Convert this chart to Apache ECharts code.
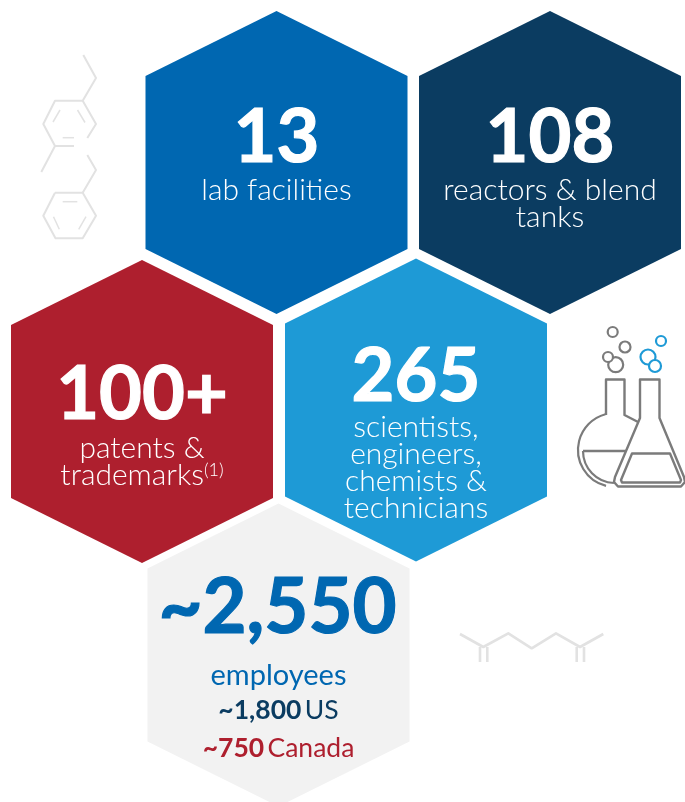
<!DOCTYPE html>
<html>
<head>
<meta charset="utf-8">
<style>
  html, body { margin: 0; padding: 0; background: #fff; }
  #main { width: 685px; height: 802px; }
</style>
<script src="https://cdn.jsdelivr.net/npm/echarts@6/dist/echarts.min.js"></script>
</head>
<body>
<div id="main"></div>
<script>
var statValues = ['13', '108', '100+', '265', '~2,550'];
var statLabels = ['lab facilities', 'reactors & blend\ntanks', 'patents &\ntrademarks{sup|(1)}', 'scientists,\nengineers,\nchemists &\ntechnicians', 'employees'];
var hexCenterX = [276.5, 550, 142, 416, 278.5];
var hexCenterY = [162.5, 162.5, 411.5, 410, 655];
var hexColors = ['#0067b1', '#0b3c61', '#ae1f2e', '#1e9ad6', '#f2f2f2'];
var usCount = '~1,800';
var canadaCount = '~750';

var FONT = 'Lato, "Open Sans", sans-serif';
var chart = echarts.init(document.getElementById('main'));

// offsets from hex centre: big number and the label under it
var numberDy = [-24, -24, -16, -33, -47];
var labelDy = [28, 41, 50, 58, 21];
var numberSize = [74, 74, 74, 74, 76];

function renderHex(params, api) {
  var i = params.dataIndex;
  var c = api.coord([api.value(0), api.value(1)]);
  var s = api.size([131, 151.5]);
  var w = s[0], h = s[1], sh = s[1] * 0.571;
  var numColor = i === 4 ? '#0067b1' : '#fff';
  var children = [{
    type: 'polygon',
    shape: { points: [[c[0], c[1] - h], [c[0] + w, c[1] - sh], [c[0] + w, c[1] + sh], [c[0], c[1] + h], [c[0] - w, c[1] + sh], [c[0] - w, c[1] - sh]] },
    style: { fill: hexColors[i] }
  }, {
    type: 'text',
    x: i === 4 ? -1 : 0,
    style: {
      x: c[0], y: c[1] + numberDy[i], text: statValues[i], align: 'center', verticalAlign: 'middle',
      font: '700 ' + numberSize[i] + 'px ' + FONT, fill: numColor, stroke: numColor, lineWidth: 1.2
    }
  }, {
    type: 'text',
    style: {
      x: c[0], y: c[1] + labelDy[i], text: statLabels[i], align: 'center', verticalAlign: 'middle',
      fontFamily: 'Lato', fontWeight: i === 4 ? 400 : 300, fontSize: i === 4 ? 29 : 30, lineHeight: 27, fill: i === 4 ? '#0067b1' : '#fff',
      rich: { sup: { fontFamily: 'Lato', fontWeight: 300, fontSize: 18, lineHeight: 27, verticalAlign: 'top', fill: '#fff' } }
    }
  }];
  if (i === 4) {
    children.push({
      type: 'text',
      style: {
        x: c[0], y: c[1] + 55, text: '{b|' + usCount + '} {n|US}', align: 'center', verticalAlign: 'middle',
        rich: {
          b: { fontFamily: 'Lato', fontWeight: 700, fontSize: 26.5, fill: '#0b3c61' },
          n: { fontFamily: 'Lato', fontWeight: 400, fontSize: 26.5, fill: '#0b3c61' }
        }
      }
    }, {
      type: 'text',
      style: {
        x: c[0], y: c[1] + 93, text: '{b|' + canadaCount + '} {n|Canada}', align: 'center', verticalAlign: 'middle',
        rich: {
          b: { fontFamily: 'Lato', fontWeight: 700, fontSize: 26.5, fill: '#ae1f2e' },
          n: { fontFamily: 'Lato', fontWeight: 400, fontSize: 26.5, fill: '#ae1f2e' }
        }
      }
    });
  }
  return { type: 'group', children: children };
}

function line(points, color, width) {
  return {
    type: 'polyline',
    shape: { points: points },
    style: { fill: null, stroke: color, lineWidth: width, lineJoin: 'round', lineCap: 'butt' },
    silent: true
  };
}
function ring(x, y, r, color) {
  return {
    type: 'circle',
    shape: { cx: x, cy: y, r: r },
    style: { fill: '#fff', stroke: color, lineWidth: 2.2 },
    silent: true
  };
}
function arc(x, y, r, from, to, color) {
  return {
    type: 'arc',
    shape: { cx: x, cy: y, r: r, startAngle: from, endAngle: to, clockwise: true },
    style: { fill: null, stroke: color, lineWidth: 2.2 },
    silent: true
  };
}

// background decoration, not data
var molGrey = '#e2e2e2';
var flaskGrey = '#7b7b7b';
var flaskBlue = '#1e9ad6';
var D = Math.PI / 180;
var decorations = [
  line([[83.3, 55], [96, 78], [82.7, 100.7], [55, 100.7], [43.3, 124], [55, 146], [74, 146]], molGrey, 2),
  line([[82.7, 100.7], [96, 124], [87.3, 138]], molGrey, 2),
  line([[55, 146], [41.3, 172]], molGrey, 2),
  line([[60, 110], [53, 122]], molGrey, 1.5),
  line([[77.5, 110], [85, 122.5]], molGrey, 1.5),
  line([[62.7, 137.7], [74, 137.7]], molGrey, 1.5),
  line([[87.3, 155], [96, 170], [82.7, 192.7]], molGrey, 2),
  line([[55, 192.7], [82.7, 192.7], [96, 215.7], [82.7, 238.3], [55.5, 238.3], [43.3, 215.7], [55, 192.7]], molGrey, 2),
  line([[62.7, 201.7], [77.3, 201.7]], molGrey, 1.5),
  line([[53.5, 216.7], [59.3, 229.3]], molGrey, 1.5),
  line([[86, 216.7], [78.7, 229.3]], molGrey, 1.5),
  line([[460, 634], [483.3, 647], [508.3, 633.3], [531.7, 648.3], [556, 633.3], [580, 647], [603.3, 634]], molGrey, 2.6),
  line([[480, 647], [480, 662]], molGrey, 2.6),
  line([[487.3, 647], [487.3, 662]], molGrey, 2.6),
  line([[576.7, 647], [576.7, 662]], molGrey, 2.6),
  line([[584, 647], [584, 662]], molGrey, 2.6),
  // round flask
  line([[606, 415], [606, 379.5], [624.5, 379.5], [624.5, 415], [640, 423]], flaskGrey, 2.4),
  arc(615, 450, 37, 104 * D, 255 * D, flaskGrey),
  arc(615, 451, 32, 92 * D, 180 * D, flaskGrey),
  line([[583, 451], [626, 451]], flaskGrey, 2.4),
  // conical flask
  {
    type: 'polygon',
    shape: { points: [[640, 379.5], [659.5, 379.5], [659.5, 418], [684, 477], [685, 482], [681, 486.5], [618, 486.5], [614, 482], [615, 477], [640, 418]] },
    style: { fill: '#fff', stroke: flaskGrey, lineWidth: 2.4, lineJoin: 'round' },
    silent: true
  },
  {
    type: 'polygon',
    shape: { points: [[632, 453.5], [670, 453.5], [681, 480], [680, 482.5], [622, 482.5], [621, 480]] },
    style: { fill: '#fff', stroke: flaskGrey, lineWidth: 2.4, lineJoin: 'round' },
    silent: true
  },
  ring(612.7, 332, 5, flaskGrey),
  ring(625, 347, 5.5, flaskGrey),
  ring(615.7, 364.7, 7.5, flaskGrey),
  ring(608, 357, 5, flaskGrey),
  ring(648, 357, 7.5, flaskBlue),
  ring(655, 366, 6, flaskBlue),
  ring(661, 341, 5, flaskBlue)
];

var option = {
  animation: false,
  backgroundColor: '#fff',
  grid: { left: 0, right: 0, top: 0, bottom: 0 },
  xAxis: { type: 'value', min: 0, max: 685, show: false },
  yAxis: { type: 'value', min: 0, max: 802, inverse: true, show: false },
  graphic: { elements: decorations },
  series: [{
    type: 'custom',
    coordinateSystem: 'cartesian2d',
    clip: false,
    silent: true,
    renderItem: renderHex,
    data: hexCenterX.map(function (x, i) { return [x, hexCenterY[i]]; })
  }]
};
chart.setOption(option);
</script>
</body>
</html>
